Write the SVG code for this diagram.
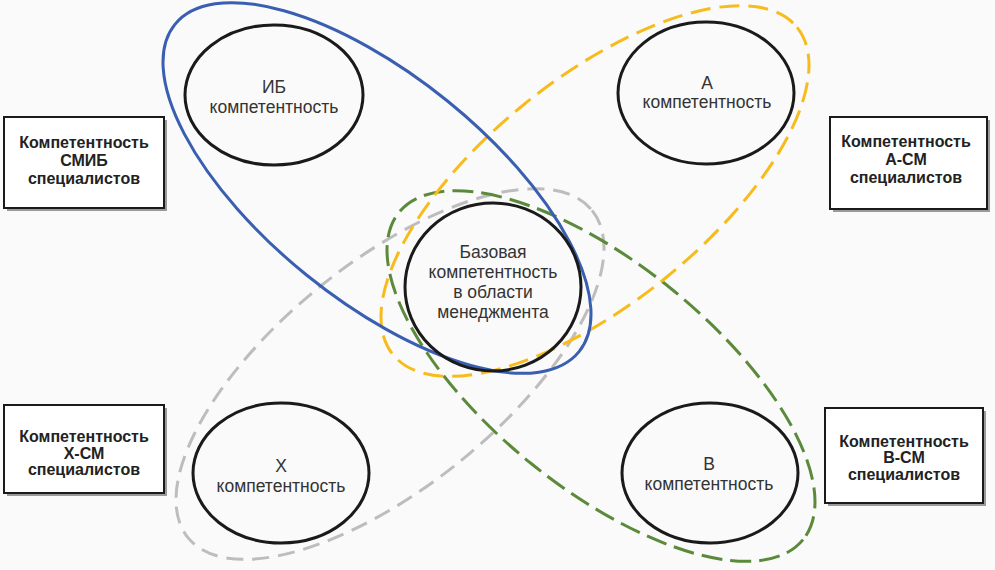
<svg xmlns="http://www.w3.org/2000/svg" width="995" height="570" viewBox="0 0 995 570">
<style>
.bg{fill:#fafafa}
.grp{fill:none;stroke-width:3}
.blue{stroke:#3a5fb0}
.yellow{stroke:#f8bb1c;stroke-dasharray:20 9}
.green{stroke:#5a8a3a;stroke-dasharray:21 8}
.gray{stroke:#bdbdbd;stroke-dasharray:17 9}
.node{fill:none;stroke:#1a1a1a;stroke-width:3}
.lbl{font-family:"Liberation Sans",Arial,sans-serif;font-size:17.5px;fill:#333;text-anchor:middle}
.box{fill:#fff;stroke:#1a1a1a;stroke-width:2}
.shadow{fill:#9a9a9a}
.blbl{font-family:"Liberation Sans",Arial,sans-serif;font-size:16px;font-weight:bold;fill:#222;text-anchor:middle}
</style>
<rect class="bg" x="0" y="0" width="995" height="570"/>
<g id="groups">
<ellipse class="grp gray" cx="390" cy="374" rx="260" ry="112" transform="rotate(-39 390 374)"/>
<ellipse class="grp green" cx="601" cy="376" rx="260" ry="112" transform="rotate(39 601 376)"/>
<ellipse class="grp yellow" cx="595" cy="191" rx="260" ry="112" transform="rotate(-39 595 191)"/>
<ellipse class="grp blue" cx="377" cy="188" rx="260" ry="112" transform="rotate(39 377 188)"/>
</g>
<g id="node-ib">
<ellipse class="node" cx="274" cy="95" rx="89" ry="70"/>
<text class="lbl" x="274" y="93">ИБ</text>
<text class="lbl" x="274" y="113">компетентность</text>
</g>
<g id="node-a">
<ellipse class="node" cx="706" cy="93" rx="88" ry="71"/>
<text class="lbl" x="707" y="89">А</text>
<text class="lbl" x="707" y="108">компетентность</text>
</g>
<g id="node-base">
<ellipse class="node" cx="493" cy="287" rx="88" ry="84"/>
<text class="lbl" x="493" y="258">Базовая</text>
<text class="lbl" x="493" y="278">компетентность</text>
<text class="lbl" x="493" y="298">в области</text>
<text class="lbl" x="493" y="318">менеджмента</text>
</g>
<g id="node-x">
<ellipse class="node" cx="281" cy="473" rx="88" ry="70"/>
<text class="lbl" x="281" y="472">Х</text>
<text class="lbl" x="281" y="492">компетентность</text>
</g>
<g id="node-b">
<ellipse class="node" cx="710" cy="473" rx="88" ry="70"/>
<text class="lbl" x="709" y="470">В</text>
<text class="lbl" x="709" y="490">компетентность</text>
</g>
<g id="box-smib">
<rect class="shadow" x="7" y="120" width="160" height="91"/>
<rect class="box" x="4" y="117" width="160" height="91"/>
<text class="blbl" x="84" y="148">Компетентность</text>
<text class="blbl" x="84" y="166">СМИБ</text>
<text class="blbl" x="84" y="184">специалистов</text>
</g>
<g id="box-a">
<rect class="shadow" x="833" y="120" width="157" height="92"/>
<rect class="box" x="830" y="117" width="157" height="92"/>
<text class="blbl" x="906" y="147">Компетентность</text>
<text class="blbl" x="906" y="165">А-СМ</text>
<text class="blbl" x="906" y="183">специалистов</text>
</g>
<g id="box-x">
<rect class="shadow" x="7" y="408" width="160" height="88"/>
<rect class="box" x="4" y="405" width="160" height="88"/>
<text class="blbl" x="84" y="442">Компетентность</text>
<text class="blbl" x="84" y="459">Х-СМ</text>
<text class="blbl" x="84" y="475">специалистов</text>
</g>
<g id="box-b">
<rect class="shadow" x="828" y="411" width="158" height="95"/>
<rect class="box" x="825" y="408" width="158" height="95"/>
<text class="blbl" x="904" y="447">Компетентность</text>
<text class="blbl" x="904" y="463">В-СМ</text>
<text class="blbl" x="904" y="480">специалистов</text>
</g>
</svg>
